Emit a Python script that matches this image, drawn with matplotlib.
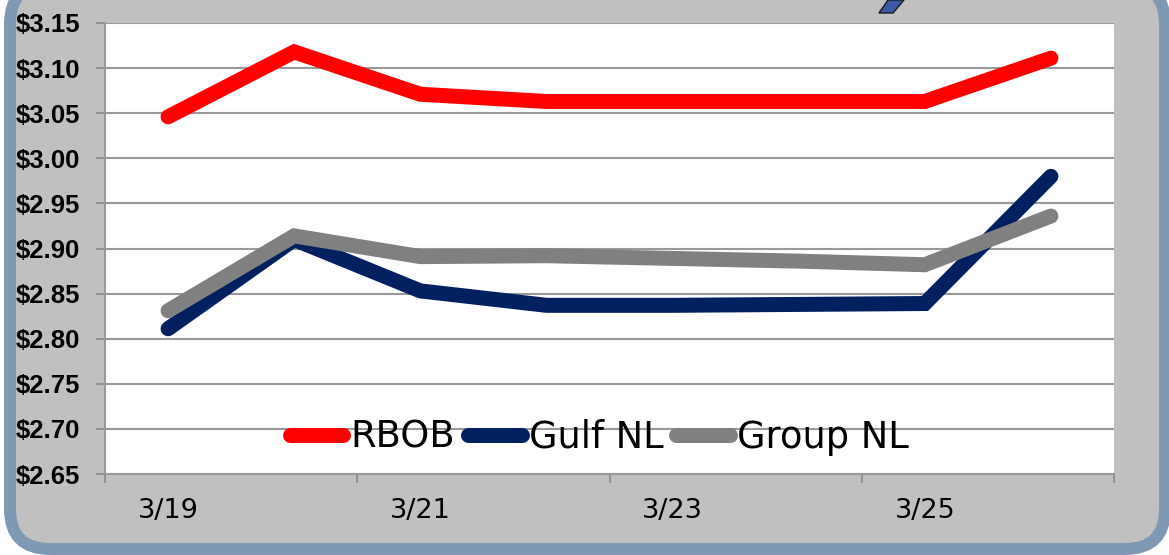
import matplotlib
matplotlib.use("Agg")
import matplotlib.pyplot as plt
from matplotlib.patches import FancyBboxPatch, Polygon
from matplotlib.ticker import FixedLocator, FuncFormatter

dates = ['3/19', '3/20', '3/21', '3/22', '3/23', '3/24', '3/25', '3/26']
rbob = [3.046, 3.118, 3.071, 3.063, 3.063, 3.063, 3.063, 3.111]
gulf_nl = [2.811, 2.910, 2.853, 2.837, 2.837, 2.838, 2.839, 2.980]
group_nl = [2.831, 2.914, 2.891, 2.892, 2.889, 2.886, 2.882, 2.936]

series = [('RBOB', rbob, '#ff0000'),
          ('Gulf NL', gulf_nl, '#002060'),
          ('Group NL', group_nl, '#808080')]

fig = plt.figure(figsize=(11.69, 5.55), dpi=100, facecolor='white')

# rounded grey panel with blue-grey frame (pixel coords), behind the axes
frame = FancyBboxPatch((10, 6), 1155, 565, boxstyle='round,pad=0,rounding_size=40',
                       transform=None, facecolor='#c0c0c0', edgecolor='#7f98b3',
                       linewidth=8.6, zorder=-5)
fig.patches.append(frame)
# bit of the cut-off title (descender of the blue letter)
fig.patches.append(Polygon([(888, 555), (904, 555), (893, 542), (879, 542)], closed=True,
                           transform=None, facecolor='#3a5aa8', edgecolor='#1a1a1a',
                           linewidth=1, zorder=1))

ax = fig.add_axes([105 / 1169, 81 / 555, 1009 / 1169, 451 / 555])
ax.set_facecolor('white')

x = list(range(len(dates)))
for name, vals, col in series:
    ax.plot(x, vals, color=col, lw=10.8, label=name,
            solid_capstyle='round', solid_joinstyle='miter', zorder=3)

ax.set_xlim(-0.5, len(dates) - 0.5)
ax.set_ylim(2.65, 3.15)
yt = [2.65 + 0.05 * i for i in range(11)]
ax.set_yticks(yt)
ax.yaxis.set_major_formatter(FuncFormatter(lambda v, p: '$%.2f' % v))
ax.grid(axis='y', color='#999999', lw=1.5, zorder=1)

ax.xaxis.set_major_locator(FixedLocator([-0.5, 1.5, 3.5, 5.5, 7.5]))
ax.xaxis.set_major_formatter(FuncFormatter(lambda v, p: ''))
ax.xaxis.set_minor_locator(FixedLocator([0, 2, 4, 6]))
ax.set_xticklabels(dates[0::2], minor=True)
ax.tick_params(axis='x', which='major', length=6.5, width=1.2, color='#888888')
ax.tick_params(axis='x', which='minor', length=0, pad=17, labelsize=19.5)
ax.tick_params(axis='y', length=6.5, width=1.2, color='#888888', pad=11.5)
for lab in ax.get_yticklabels():
    lab.set_fontfamily('Liberation Sans')
    lab.set_fontweight('bold')
    lab.set_fontsize(18.5)

for s in ['top', 'right']:
    ax.spines[s].set_visible(False)
for s in ['left', 'bottom']:
    ax.spines[s].set_color('#999999')
    ax.spines[s].set_linewidth(1.5)

ax.legend(loc='center', bbox_to_anchor=(0.49, 0.082), ncol=3, frameon=False,
          fontsize=26.5, handlelength=1.45, handletextpad=0.2, columnspacing=0.35,
          borderpad=0, borderaxespad=0)

fig.savefig('out.png', dpi=100, facecolor=fig.get_facecolor())
